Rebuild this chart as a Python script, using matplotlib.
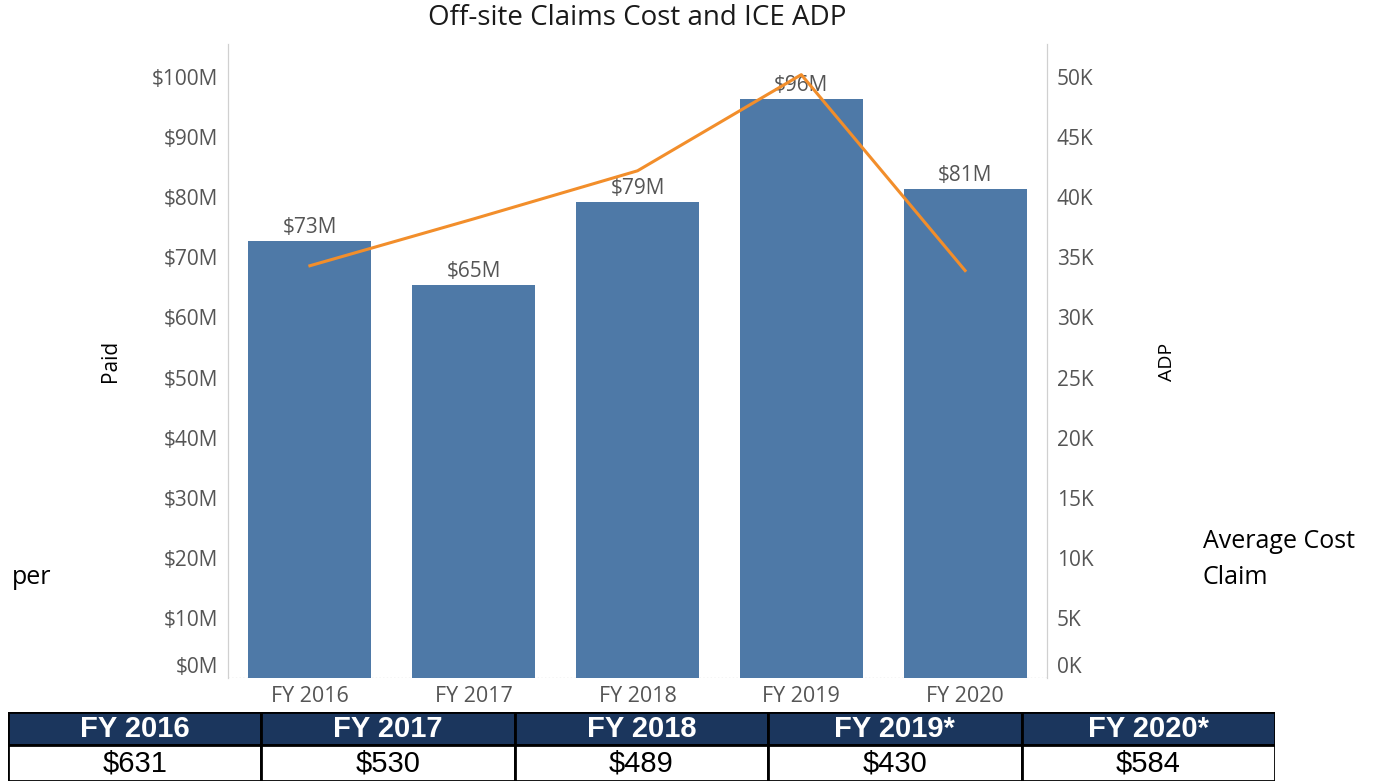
import matplotlib.pyplot as plt
from matplotlib.patches import Rectangle
from matplotlib.transforms import ScaledTranslation


YEARS = ["FY 2016", "FY 2017", "FY 2018", "FY 2019", "FY 2020"]
PAID_M = [72.8, 65.4, 79.2, 96.3, 81.4]          # $ millions
ADP_K = [34.3, 38.2, 42.2, 50.2, 33.9]           # thousands
PAID_TICKS = [0, 10, 20, 30, 40, 50, 60, 70, 80, 90, 100]
ADP_TICKS = [0, 5, 10, 15, 20, 25, 30, 35, 40, 45, 50]

TABLE_HEAD = ["FY 2016", "FY 2017", "FY 2018", "FY 2019*", "FY 2020*"]
TABLE_VALS = ["$631", "$530", "$489", "$430", "$584"]

BAR_COLOR = "#4e79a7"
LINE_COLOR = "#f28e2b"
GREY = "#555555"
NAVY = "#1b365d"
FONT = "Open Sans"
NARROW = ["Liberation Sans Narrow", "Liberation Sans", "DejaVu Sans"]

W, H = 1376, 782


def main():
    fig = plt.figure(figsize=(W / 100, H / 100), dpi=100)
    ax = fig.add_axes([228 / W, 1 - 678 / H, (1047 - 228) / W, (678 - 44) / H])
    ax2 = ax.twinx()

    x = list(range(len(YEARS)))
    ax.bar(x, PAID_M, width=0.75, color=BAR_COLOR, zorder=2)
    for xi, v in zip(x, PAID_M):
        ax.text(xi, v + 0.5, f"${v:.0f}M", ha="center", va="bottom",
                fontsize=15, color=GREY, family=FONT, zorder=3)

    ax2.plot(x, ADP_K, color=LINE_COLOR, lw=2.2, zorder=4)

    ymax = 105.5
    ax.set_ylim(0, ymax)
    ax2.set_ylim(0, ymax / 2)
    ax.set_xlim(-0.5, 4.5)

    ax.set_yticks(PAID_TICKS)
    ax.set_yticklabels([f"${t}M" for t in PAID_TICKS])
    ax2.set_yticks(ADP_TICKS)
    ax2.set_yticklabels([f"{t}K" for t in ADP_TICKS])
    ax.set_xticks(x)
    ax.set_xticklabels(YEARS)

    for a in (ax, ax2):
        a.tick_params(length=0, labelsize=15, labelcolor=GREY)
        for lab in a.get_xticklabels() + a.get_yticklabels():
            lab.set_family(FONT)
        a.spines["top"].set_visible(False)
        a.spines["bottom"].set_visible(False)
        a.spines["left"].set_color("#d0d0d0")
        a.spines["right"].set_color("#d0d0d0")
    ax.tick_params(axis="y", pad=7)
    ax2.tick_params(axis="y", pad=7)
    ax.tick_params(axis="x", pad=5.5, labelsize=15.5)
    ax.axhline(0, color="#cfcfcf", lw=1, ls=":", zorder=1)

    # zero labels sit a bit higher, as in the original
    shift = ScaledTranslation(0, 13 / 100, fig.dpi_scale_trans)
    ax.get_yticklabels()[0].set_transform(ax.get_yticklabels()[0].get_transform() + shift)
    ax2.get_yticklabels()[0].set_transform(ax2.get_yticklabels()[0].get_transform() + shift)

    fig.text(637 / W, 1 - 18 / H, "Off-site Claims Cost and ICE ADP", ha="center",
             va="center", fontsize=20, fontweight="medium", color="#1a1a1a",
             family=FONT)
    fig.text(110 / W, 1 - 361 / H, "Paid", rotation=90, ha="center", va="center",
             fontsize=15, color="black", family=FONT)
    fig.text(1167 / W, 1 - 362 / H, "ADP", rotation=90, ha="center", va="center",
             fontsize=14, color="black", family=FONT)
    fig.text(12 / W, 1 - 578 / H, "per", ha="left", va="center", fontsize=18,
             color="black", family=FONT)
    fig.text(1203 / W, 1 - 541 / H, "Average Cost", ha="left", va="center",
             fontsize=18, color="black", family=FONT)
    fig.text(1203 / W, 1 - 577 / H, "Claim", ha="left", va="center",
             fontsize=18, color="black", family=FONT)

    # table below the chart
    tb = fig.add_axes([8 / W, 1 - 781 / H, (1275 - 8) / W, (781 - 712) / H])
    tb.set_xlim(0, len(TABLE_HEAD))
    tb.set_ylim(0, 69)
    tb.axis("off")
    for i, (head, val) in enumerate(zip(TABLE_HEAD, TABLE_VALS)):
        tb.add_patch(Rectangle((i, 36), 1, 33, facecolor=NAVY, edgecolor="black", lw=2))
        tb.add_patch(Rectangle((i, 0), 1, 36, facecolor="white", edgecolor="black", lw=2))
        tb.text(i + 0.5, 52, head, ha="center", va="center", fontsize=21,
                fontweight="bold", color="white", family=NARROW)
        tb.text(i + 0.5, 18, val, ha="center", va="center", fontsize=21,
                color="black", family=NARROW)

    fig.savefig("out.png", dpi=100)


if __name__ == "__main__":
    main()
